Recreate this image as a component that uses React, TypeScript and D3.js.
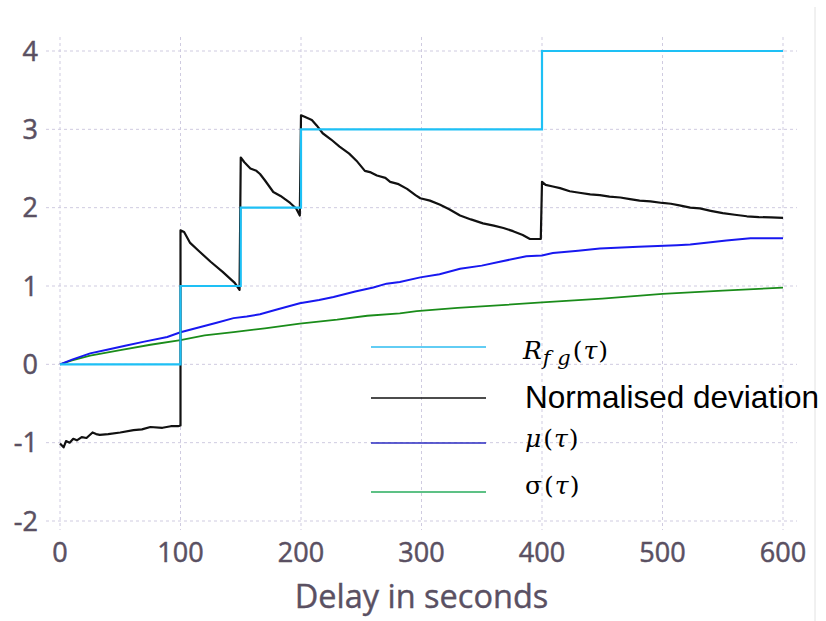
import React from "react";
import * as d3 from "d3";

// ---- data ----
const xTicks = [0, 100, 200, 300, 400, 500, 600];
const yTicks = [-2, -1, 0, 1, 2, 3, 4];

// R_fg(tau) step function
const rfgX = [0, 100, 100, 150, 150, 200, 200, 400, 400, 600];
const rfgY = [0, 0, 1, 1, 2, 2, 3, 3, 4, 4];

// Normalised deviation
const devX = [
  0, 3, 5, 8, 11, 14, 18, 22, 27, 30, 33, 40, 50, 61, 68, 75, 85, 92, 98, 100,
  100, 103, 108, 115, 125, 135, 145, 149,
  150, 153, 158, 163, 166, 170, 177, 183, 191, 196, 199,
  200, 203, 209, 213, 218, 225, 232, 240, 246, 253, 258, 263, 270, 274, 281, 288, 295, 299, 307, 315, 323, 332, 341, 351, 360, 368, 376, 384, 390, 398, 399,
  400, 403, 409, 415, 423, 431, 440, 448, 456, 465, 473, 481, 490, 500, 507, 514, 523, 531, 540, 550, 560, 570, 580, 590, 600,
];
const devY = [
  -1.01, -1.06, -0.98, -1.0, -0.95, -0.97, -0.93, -0.94, -0.87, -0.89, -0.9, -0.89, -0.87, -0.84, -0.83, -0.8, -0.81, -0.79, -0.79, -0.78,
  1.71, 1.69, 1.55, 1.45, 1.31, 1.18, 1.04, 0.95,
  2.64, 2.58, 2.5, 2.47, 2.43, 2.35, 2.2, 2.15, 2.06, 1.99, 1.9,
  3.18, 3.16, 3.12, 3.05, 2.95, 2.87, 2.78, 2.69, 2.6, 2.47, 2.45, 2.41, 2.38, 2.33, 2.3, 2.24, 2.16, 2.12, 2.09, 2.04, 1.98, 1.9, 1.85, 1.8, 1.77, 1.74, 1.7, 1.65, 1.6, 1.6, 1.6,
  2.33, 2.29, 2.27, 2.25, 2.21, 2.19, 2.17, 2.16, 2.14, 2.13, 2.11, 2.09, 2.08, 2.06, 2.05, 2.03, 2.0, 1.99, 1.96, 1.93, 1.91, 1.89, 1.88, 1.875, 1.87,
];

// mu(tau)
const muX = [0, 10, 25, 40, 55, 70, 89, 100, 115, 130, 144, 155, 166, 180, 199, 215, 227, 245, 260, 271, 282, 299, 315, 332, 350, 365, 387, 400, 409, 430, 448, 480, 512, 523, 540, 553, 573, 600];
const muY = [0, 0.06, 0.14, 0.19, 0.24, 0.29, 0.35, 0.41, 0.47, 0.53, 0.59, 0.61, 0.64, 0.7, 0.78, 0.82, 0.86, 0.93, 0.98, 1.03, 1.05, 1.11, 1.15, 1.22, 1.26, 1.31, 1.38, 1.39, 1.42, 1.45, 1.48, 1.5, 1.52, 1.53, 1.56, 1.58, 1.61, 1.61];

// sigma(tau)
const sigX = [0, 10, 25, 50, 75, 100, 120, 144, 170, 199, 230, 255, 282, 296, 330, 370, 400, 450, 500, 550, 600];
const sigY = [0, 0.05, 0.11, 0.18, 0.25, 0.31, 0.37, 0.41, 0.46, 0.52, 0.57, 0.62, 0.65, 0.68, 0.72, 0.76, 0.79, 0.84, 0.9, 0.94, 0.98];

const W = 826;
const H = 621;

export default function App() {
  const x = d3.scaleLinear().domain([0, 600]).range([60, 783]);
  const y = d3.scaleLinear().domain([-2, 4]).range([521, 51]);

  const mk = (xs: number[], ys: number[]) =>
    d3
      .line<number>()
      .x((_, i) => x(xs[i]))
      .y((d) => y(d))(ys) as string;

  const gridColor = "#cfcbe0";
  const tickColor = "#5a5062";
  const tickFont = "'Open Sans', Lato, sans-serif";
  const mathFont = "'DejaVu Serif', 'Liberation Serif', serif";

  const legendItems = [
    { color: "#2ebcf0", y: 347 },
    { color: "#111111", y: 398 },
    { color: "#2b2bc0", y: 443 },
    { color: "#27ad5c", y: 492 },
  ];

  return (
    <div style={{ position: "absolute", left: 0, top: 0 }}>
      <svg width={W} height={H} style={{ display: "block", background: "#fff" }}>
        {/* right border */}
        <line x1={815} x2={815} y1={7} y2={H} stroke="#e2e2e2" strokeWidth={1} />

        {/* grid */}
        {yTicks.map((t) => (
          <line
            key={"gy" + t}
            x1={46}
            x2={797}
            y1={y(t)}
            y2={y(t)}
            stroke={gridColor}
            strokeWidth={1}
            strokeDasharray="3,3"
          />
        ))}
        {xTicks.map((t) => (
          <line
            key={"gx" + t}
            x1={x(t)}
            x2={x(t)}
            y1={37}
            y2={530}
            stroke={gridColor}
            strokeWidth={1}
            strokeDasharray="3,3"
          />
        ))}

        {/* tick labels */}
        {yTicks.map((t) => (
          <text
            key={"ty" + t}
            x={38}
            y={y(t)}
            dy="0.36em"
            textAnchor="end"
            fontFamily={tickFont}
            fontSize={27}
            fill={tickColor}
            stroke={tickColor}
            strokeWidth={0.5}
          >
            {t}
          </text>
        ))}
        {xTicks.map((t) => (
          <text
            key={"tx" + t}
            x={x(t)}
            y={562}
            textAnchor="middle"
            fontFamily={tickFont}
            fontSize={27}
            fill={tickColor}
            stroke={tickColor}
            strokeWidth={0.5}
          >
            {t}
          </text>
        ))}
        <text
          x={x(300)}
          y={608}
          textAnchor="middle"
          fontFamily={tickFont}
          fontSize={32.5}
          fill={tickColor}
          stroke={tickColor}
          strokeWidth={0.4}
        >
          Delay in seconds
        </text>

        {/* series */}
        <path d={mk(sigX, sigY)} fill="none" stroke="#1a8c1a" strokeWidth={1.8} />
        <path d={mk(muX, muY)} fill="none" stroke="#1818f0" strokeWidth={2} />
        <path d={mk(devX, devY)} fill="none" stroke="#111" strokeWidth={2.2} strokeLinejoin="round" />
        <path d={mk(rfgX, rfgY)} fill="none" stroke="#1ec0f5" strokeWidth={2.2} />

        {/* legend */}
        {legendItems.map((l, i) => (
          <line key={"lg" + i} x1={371} x2={486} y1={l.y} y2={l.y} stroke={l.color} strokeWidth={1.6} />
        ))}
        <text x={523} y={359} fontFamily={mathFont} fontSize={25} fill="#000">
          <tspan fontStyle="italic">R</tspan>
          <tspan fontStyle="italic" fontSize={21} dy={6} dx={1}>
            f g
          </tspan>
          <tspan dy={-6} dx={2}>(</tspan>
          <tspan fontStyle="italic" dx={1}>τ</tspan>
          <tspan dx={1}>)</tspan>
        </text>
        <text x={525} y={408} fontFamily="'Liberation Sans', Arial, sans-serif" fontSize={31.5} fill="#000">
          Normalised deviation
        </text>
        <text x={525} y={447} fontFamily={mathFont} fontSize={25} fill="#000">
          <tspan fontStyle="italic">μ</tspan>
          <tspan dx={2}>(</tspan>
          <tspan fontStyle="italic" dx={1}>τ</tspan>
          <tspan dx={1}>)</tspan>
        </text>
        <text x={525} y={494} fontFamily={mathFont} fontSize={25} fill="#000">
          <tspan>σ</tspan>
          <tspan dx={2}>(</tspan>
          <tspan fontStyle="italic" dx={1}>τ</tspan>
          <tspan dx={1}>)</tspan>
        </text>
      </svg>
    </div>
  );
}
